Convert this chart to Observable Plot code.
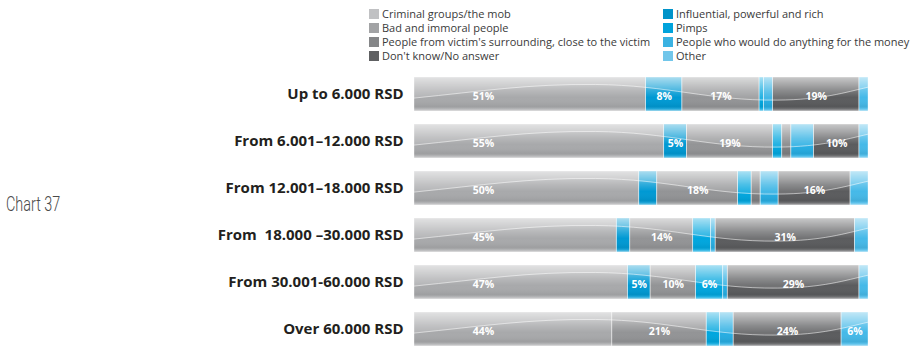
<!DOCTYPE html>
<html>
<head>
<meta charset="utf-8">
<script src="https://cdn.jsdelivr.net/npm/d3@7"></script>
<script src="https://cdn.jsdelivr.net/npm/@observablehq/plot@0.6"></script>
<style>
  html, body { margin: 0; padding: 0; background: #fff; }
  #wrap { position: relative; width: 918px; height: 350px; overflow: hidden; font-family: "Open Sans", sans-serif; }
  #legend { position: relative; height: 68px; }
  .lcol { position: absolute; top: 7px; }
  .litem { height: 14px; line-height: 14px; font-size: 11px; color: #3a3a3a; white-space: nowrap; }
  .lsw { display: inline-block; width: 10px; height: 10px; vertical-align: -1px; margin-right: 3px; }
  #caption { position: absolute; left: 6px; top: 192px; font-family: Roboto, sans-serif; font-weight: 300; font-size: 20px; color: #4a4a4a; transform: scaleX(0.72); transform-origin: left top; white-space: nowrap; }
  #chart svg { display: block; }
  #chart [aria-label^="y-axis"] text { font-size: 15px; font-weight: 700; fill: #231f20; white-space: pre; }
</style>
</head>
<body>
<div id="wrap">
  <div id="legend"></div>
  <div id="caption">Chart 37</div>
  <div id="chart"></div>
</div>
<script>
const incomes = [
  "Up to 6.000 RSD",
  "From 6.001–12.000 RSD",
  "From 12.001–18.000 RSD",
  "From  18.000 –30.000 RSD",
  "From 30.001-60.000 RSD",
  "Over 60.000 RSD"
];
const categories = [
  "Criminal groups/the mob",
  "Influential, powerful and rich",
  "Bad and immoral people",
  "Pimps",
  "People from victim's surrounding, close to the victim",
  "People who would do anything for the money",
  "Don't know/No answer",
  "Other"
];
const colors = ["#a8a9ab", "#0099d3", "#939496", "#00a6de", "#7e7f81", "#26ade2", "#5b5c5e", "#45b9e8"];
const legendColors = ["#c0c1c3", "#0093c9", "#a2a3a5", "#00a3dc", "#858688", "#3ab2e2", "#5f6062", "#71c6ea"];
const legendLeft = ["Criminal groups/the mob", "Bad and immoral people", "People from victim's surrounding, close to the victim", "Don't know/No answer"];
const legendRight = ["Influential, powerful and rich", "Pimps", "People who would do anything for the money", "Other"];
const unlabelled = ["People who would do anything for the money"];

const criminal    = [51, 55, 50, 45, 47, 44];
const influential = [8, 5, 4, 3, 5, 0];
const bad         = [17, 19, 18, 14, 10, 21];
const pimps       = [1, 2, 3, 4, 6, 3];
const surrounding = [0, 2, 2, 0, 0, 0];
const anything    = [2, 5, 4, 1, 1, 3];
const dontKnow    = [19, 10, 16, 31, 29, 24];
const other       = [2, 2, 4, 3, 2, 6];
const series = [criminal, influential, bad, pimps, surrounding, anything, dontKnow, other];

const data = incomes.flatMap((inc, i) => categories.map((c, j) => ({income: inc, category: c, value: series[j][i]})));
const rows = incomes.map((inc, i) => ({income: inc, total: d3.sum(series, s => s[i])}));

// legend
const legendColorOf = c => legendColors[categories.indexOf(c)];
function legendCol(items, left) {
  const col = document.createElement("div");
  col.className = "lcol";
  col.style.left = left + "px";
  for (const c of items) {
    const it = document.createElement("div");
    it.className = "litem";
    const sw = document.createElement("span");
    sw.className = "lsw";
    sw.style.background = legendColorOf(c);
    it.appendChild(sw);
    it.appendChild(document.createTextNode(c));
    col.appendChild(it);
  }
  document.getElementById("legend").appendChild(col);
}
legendCol(legendLeft, 369);
legendCol(legendRight, 663);

const stackOpts = {x: "value", y: "income", offset: "normalize"};
const showLabel = d => d.category !== categories[0] && d.value >= 5 && !unlabelled.includes(d.category);

const chart = Plot.plot({
  width: 918,
  height: 282,
  marginLeft: 414,
  marginRight: 50,
  marginTop: 7,
  marginBottom: 1,
  x: {axis: null, domain: [0, 1]},
  y: {domain: incomes, paddingInner: 0.27, paddingOuter: 0, tickSize: 0, tickPadding: 11, label: null},
  color: {domain: categories, range: colors},
  style: {fontFamily: "Open Sans, sans-serif", background: "white"},
  marks: [
    Plot.barX(data, Plot.stackX({...stackOpts, fill: "category"})),
    Plot.barX(rows, Plot.stackX({x: "total", y: "income", offset: "normalize", fill: "url(#gloss)"})),
    Plot.barX(data, Plot.stackX({...stackOpts, fill: "none", stroke: "white", strokeWidth: 0.7, strokeOpacity: 0.5})),
    Plot.text(data, Plot.stackX1({...stackOpts, text: d => d.category === categories[0] ? d.value + "%" : "", dx: 69, dy: 2, fill: "white", fontWeight: "bold", fontSize: 10.5})),
    Plot.text(data, Plot.stackX({...stackOpts, text: d => showLabel(d) ? d.value + "%" : "", dy: 2, fill: "white", fontWeight: "bold", fontSize: 10.5}))
  ]
});

// gradient definitions for the glossy look
const ns = "http://www.w3.org/2000/svg";
const defs = document.createElementNS(ns, "defs");
defs.innerHTML = `
  <linearGradient id="gloss" x1="0" y1="0" x2="0" y2="1">
    <stop offset="0" stop-color="#fff" stop-opacity="0.62"/>
    <stop offset="0.4" stop-color="#fff" stop-opacity="0.18"/>
    <stop offset="0.6" stop-color="#fff" stop-opacity="0"/>
    <stop offset="0.86" stop-color="#000" stop-opacity="0.06"/>
    <stop offset="0.93" stop-color="#fff" stop-opacity="0.12"/>
    <stop offset="1" stop-color="#fff" stop-opacity="0.5"/>
  </linearGradient>`;
chart.insertBefore(defs, chart.firstChild);

// decorative wave highlight across each whole bar
const barGroups = chart.querySelectorAll('g[aria-label="bar"]');
const overlay = barGroups[1];
if (overlay) {
  overlay.querySelectorAll("rect").forEach(r => {
    const x = +r.getAttribute("x"), y = +r.getAttribute("y");
    const w = +r.getAttribute("width"), h = +r.getAttribute("height");
    const P = (fx, fy) => `${(x + fx * w).toFixed(2)},${(y + fy * h).toFixed(2)}`;
    const curve = `${P(0, 0.62)} C${P(0.15, 0.42)} ${P(0.25, 0.2)} ${P(0.4, 0.22)} C${P(0.56, 0.24)} ${P(0.65, 0.7)} ${P(0.8, 0.68)} C${P(0.9, 0.67)} ${P(0.95, 0.45)} ${P(1, 0.3)}`;
    const region = document.createElementNS(ns, "path");
    region.setAttribute("d", `M${P(0, 0)} L${curve} L${P(1, 0)} Z`);
    region.setAttribute("fill", "#fff");
    region.setAttribute("fill-opacity", "0.14");
    overlay.appendChild(region);
    const line = document.createElementNS(ns, "path");
    line.setAttribute("d", `M${curve}`);
    line.setAttribute("fill", "none");
    line.setAttribute("stroke", "#fff");
    line.setAttribute("stroke-opacity", "0.6");
    line.setAttribute("stroke-width", "0.9");
    overlay.appendChild(line);
  });
}

document.getElementById("chart").appendChild(chart);
</script>
</body>
</html>
